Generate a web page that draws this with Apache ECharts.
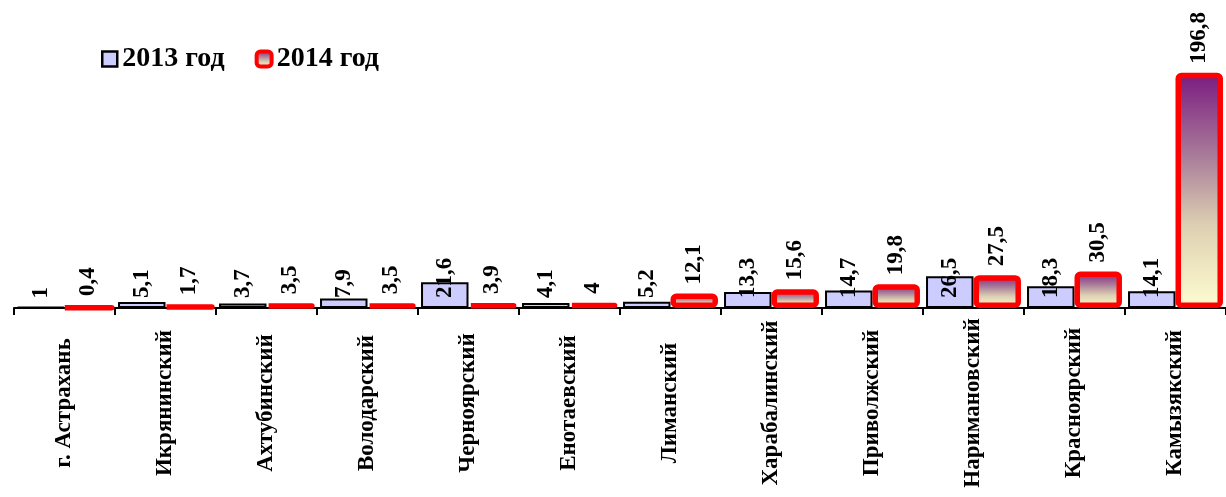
<!DOCTYPE html>
<html><head><meta charset="utf-8">
<script src="https://cdn.jsdelivr.net/npm/echarts@6/dist/echarts.min.js"></script>
<style>html,body{margin:0;padding:0;background:#fff}#c{width:1226px;height:497px}</style>
</head><body><div id="c"></div>
<script>
const categories = ['г. Астрахань','Икрянинский','Ахтубинский','Володарский','Черноярский','Енотаевский','Лиманский','Харабалинский','Приволжский','Наримановский','Красноярский','Камызякский'];
const values2013 = [1, 5.1, 3.7, 7.9, 21.6, 4.1, 5.2, 13.3, 14.7, 26.5, 18.3, 14.1];
const values2014 = [0.4, 1.7, 3.5, 3.5, 3.9, 4, 12.1, 15.6, 19.8, 27.5, 30.5, 196.8];
const seriesNames = ['2013 год', '2014 год'];

const FONT = "'Liberation Serif', 'Times New Roman', serif";
const fmt = v => String(v.value !== undefined ? v.value : v).replace('.', ',');
const grad = new echarts.graphic.LinearGradient(0, 0, 0, 1, [
  {offset: 0, color: '#7a1a80'},
  {offset: 0.35, color: '#a87b99'},
  {offset: 0.65, color: '#ddd0b2'},
  {offset: 1, color: '#fffdd0'}
]);
const chart = echarts.init(document.getElementById('c'));
chart.setOption({
  animation: false,
  backgroundColor: '#fff',
  legend: {
    left: 96, top: 40,
    itemWidth: 15, itemHeight: 15, itemGap: 30,
    textStyle: {fontFamily: FONT, fontWeight: 'bold', fontSize: 28, color: '#000'},
    data: [
      {name: seriesNames[0], icon: 'rect', itemStyle: {color: '#ccccff', borderColor: '#000', borderWidth: 2.5}},
      {name: seriesNames[1], icon: 'roundRect', itemStyle: {color: grad, borderColor: '#ff0000', borderWidth: 4}}
    ]
  },
  grid: {left: 14, right: -10, top: 69, bottom: 189, containLabel: false},
  xAxis: {
    type: 'category', data: categories, boundaryGap: true,
    axisLine: {show: true, lineStyle: {color: '#000', width: 2}},
    axisTick: {show: true, alignWithLabel: false, interval: 0, length: 7, lineStyle: {color: '#000', width: 2}},
    axisLabel: {
      rotate: 90, interval: 0, margin: 95, align: 'center', verticalAlign: 'middle',
      fontFamily: FONT, fontWeight: 'bold', fontSize: 23, color: '#000'
    }
  },
  yAxis: {type: 'value', min: 0, max: 200, show: false, splitLine: {show: false}},
  series: [
    {
      name: seriesNames[0], type: 'bar', data: values2013,
      barGap: '0%', barCategoryGap: '6%',
      itemStyle: {color: '#ccccff', borderColor: '#000', borderWidth: 2},
      label: {
        show: true, position: 'insideBottom', distance: 10, rotate: 90,
        align: 'left', verticalAlign: 'middle',
        fontFamily: FONT, fontWeight: 'bold', fontSize: 23, color: '#000',
        formatter: fmt
      }
    },
    {
      name: seriesNames[1], type: 'bar', data: values2014,
      barGap: '0%', barCategoryGap: '6%',
      itemStyle: {color: grad, borderColor: '#ff0000', borderWidth: 5.5, borderJoin: 'round', borderRadius: 3},
      label: {
        show: true, position: 'top', distance: 9, rotate: 90,
        align: 'left', verticalAlign: 'middle',
        fontFamily: FONT, fontWeight: 'bold', fontSize: 23, color: '#000',
        formatter: fmt
      }
    }
  ]
});
</script></body></html>
